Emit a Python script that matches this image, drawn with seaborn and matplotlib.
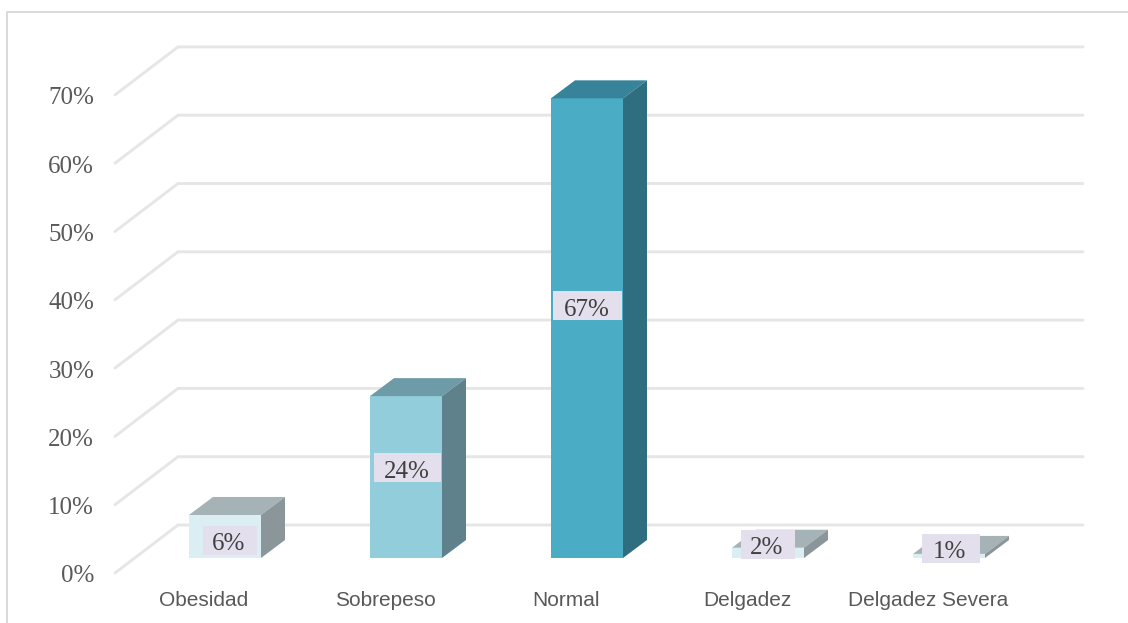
import matplotlib
matplotlib.use("Agg")
import matplotlib.pyplot as plt
from matplotlib.lines import Line2D
from matplotlib.patches import Rectangle
from matplotlib.transforms import ScaledTranslation
import pandas as pd
import seaborn as sns

categories = ["Obesidad", "Sobrepeso", "Normal", "Delgadez", "Delgadez Severa"]
values = [6.3, 23.7, 67.3, 1.5, 0.6]
y_ticks = [0, 10, 20, 30, 40, 50, 60, 70]

front_colors = ["#DAEEF3", "#92CDDC", "#4BACC6", "#DAEEF3", "#DAEEF3"]
top_colors = ["#A5B2B6", "#6E9BA8", "#37839A", "#A5B2B6", "#A5B2B6"]
side_colors = ["#8A9699", "#5E818B", "#2E6E80", "#8A9699", "#8A9699"]

# layout (pixels of the 1128x623 canvas)
W, H = 1128, 623
PX_PER_CAT, PX_PER_PCT = 181.0, 6.83
CAT0_PX, ZERO_PX = 225.0, 558.0
AX_L, AX_R, AX_B, AX_T = 115, 1083, 573, 47
box_cx = [230, 407.5, 587.5, 768, 951]
box_cy = [540.5, 467.5, 305.5, 544, 548]
box_w = [54, 67, 69, 54, 58]
box_h = 29

def X(px):
    return (px - CAT0_PX) / PX_PER_CAT

def Y(py):
    return (ZERO_PX - py) / PX_PER_PCT

bar_w = 72 / PX_PER_CAT
bar_dx = 24 / PX_PER_CAT
bar_dy = 18 / PX_PER_PCT
floor_y = Y(AX_B)
back_dx = 63 / PX_PER_CAT
back_dy = 48 / PX_PER_PCT

sns.set_theme(style="white")
plt.rcParams["font.family"] = ["Liberation Sans", "DejaVu Sans"]

fig = plt.figure(figsize=(W / 100, H / 100), dpi=100, facecolor="white")
ax = fig.add_axes([AX_L / W, 1 - AX_B / H, (AX_R - AX_L) / W, (AX_B - AX_T) / H])
ax.patch.set_alpha(0)

df = pd.DataFrame({"cat": categories, "val": values})
sns.barplot(data=df, x="cat", y="val", hue="cat", palette=front_colors,
            width=bar_w, dodge=False, legend=False, saturation=1,
            linewidth=0, zorder=3, ax=ax)

ax.set_xlim(X(AX_L), X(AX_R))
ax.set_ylim(Y(AX_B), Y(AX_T))

# wall grid and floor diagonals
GRID = "#E6E6E6"
for t in y_ticks:
    y0 = floor_y + t
    ax.plot([X(AX_L), X(AX_L) + back_dx, X(AX_R)], [y0, y0 + back_dy, y0 + back_dy],
            color=GRID, lw=2.1, solid_joinstyle="miter", zorder=1, clip_on=False)

# 3D faces of the bars
for i, v in enumerate(values):
    l, r = i - bar_w / 2, i + bar_w / 2
    ax.fill([l, r, r + bar_dx, l + bar_dx], [v, v, v + bar_dy, v + bar_dy],
            color=top_colors[i], lw=0, zorder=3)
    ax.fill([r, r + bar_dx, r + bar_dx, r], [0, bar_dy, v + bar_dy, v],
            color=side_colors[i], lw=0, zorder=3)

# data labels
for i, v in enumerate(values):
    cx, cy, w = box_cx[i], box_cy[i], box_w[i]
    ax.add_patch(Rectangle((X(cx - w / 2), Y(cy + box_h / 2)), w / PX_PER_CAT, box_h / PX_PER_PCT,
                           facecolor="#E4DFEC", edgecolor="none", zorder=4))
    ax.text(X(cx - 1), Y(cy + 1.5), f"{v:.0f}%", ha="center", va="center_baseline", fontsize=18,
            family="Liberation Serif", color="#404040", zorder=5)

# axis ticks
ax.set_yticks([floor_y + t for t in y_ticks])
ax.set_yticklabels([f"{t}%" for t in y_ticks], family="Liberation Serif", fontsize=18, color="#595959")
ax.set_xticks([i - 21 / PX_PER_CAT for i in range(len(categories))])
ax.set_xticklabels(categories, fontsize=15, color="#595959")
ax.tick_params(axis="y", length=0, pad=15)
ax.tick_params(axis="x", length=0, pad=12.6)
shift = ScaledTranslation(0, -1 / 100, fig.dpi_scale_trans)
for lab in ax.get_yticklabels():
    lab.set_transform(lab.get_transform() + shift)
ax.set_xlabel("")
ax.set_ylabel("")
ax.grid(False)
sns.despine(ax=ax, left=True, bottom=True)

# chart frame (left and top edges visible in the crop)
fig.add_artist(Line2D([6.5 / W, 6.5 / W, 1], [0, 1 - 11.5 / H, 1 - 11.5 / H], color="#D9D9D9", lw=1.4))

fig.savefig("out.png", dpi=100)
